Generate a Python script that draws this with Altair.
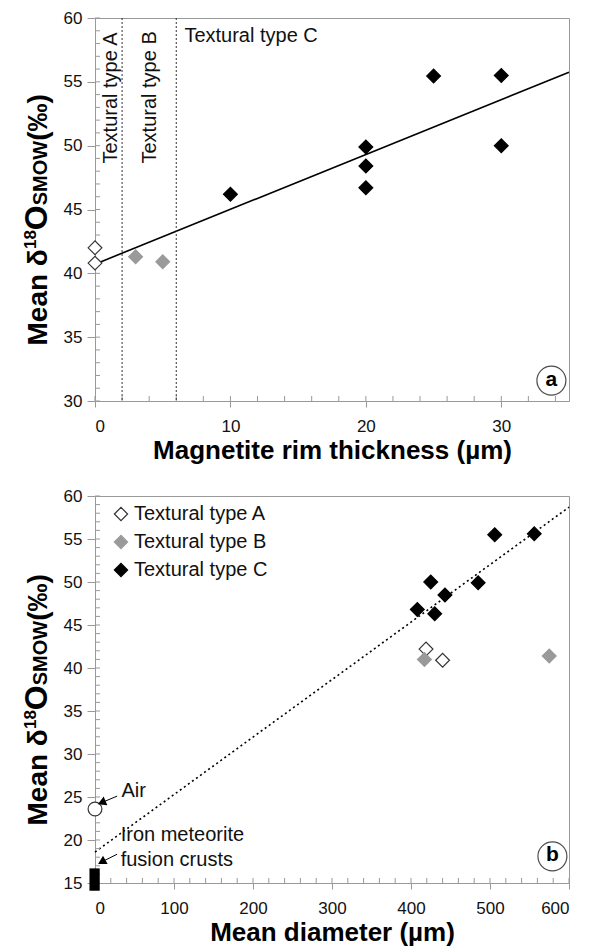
import altair as alt
import pandas as pd

FONT = "Liberation Sans, Arial, Helvetica, sans-serif"

# ---------------- data ----------------
TYPES = ["Textural type A", "Textural type B", "Textural type C"]

# panel a : magnetite rim thickness vs mean d18O
A_TYPE = ["Textural type A"] * 2 + ["Textural type B"] * 2 + ["Textural type C"] * 7
A_RIM = [0, 0, 3, 5, 10, 20, 20, 20, 25, 30, 30]
A_D18O = [42.0, 40.8, 41.3, 40.9, 46.2, 49.9, 48.4, 46.7, 55.45, 55.5, 50.0]
A_FIT_X = [0, 35]
A_FIT_Y = [40.72, 55.75]
A_BOUND_X = [2, 6]
A_VLABEL_TEXT = ["Textural type A", "Textural type B"]
A_VLABEL_X = [1.6, 4.5]
A_VLABEL_Y = [48.6, 48.6]
A_HLABEL_TEXT = ["Textural type C"]
A_HLABEL_X = [6.6]
A_HLABEL_Y = [58.1]
A_TAG = ["a"]
A_TAG_X = [33.7]
A_TAG_Y = [31.6]
A_XTICKS = [0, 10, 20, 30]
A_YTICKS = [30, 35, 40, 45, 50, 55, 60]
A_XMINOR = list(range(0, 36, 2))
A_YMINOR = list(range(30, 61))

# panel b : mean diameter vs mean d18O
B_TYPE = ["Textural type A"] * 2 + ["Textural type B"] * 2 + ["Textural type C"] * 7
B_DIAM = [419, 440, 417, 575, 408, 425, 430, 443, 485, 506, 556]
B_D18O = [42.2, 40.9, 41.0, 41.4, 46.8, 50.0, 46.3, 48.5, 49.9, 55.5, 55.6]
B_FIT_X = [0, 600]
B_FIT_Y = [18.6, 58.7]
AIR_X = [0]
AIR_Y = [23.6]
IRON_X = [-7]
IRON_X2 = [6]
IRON_Y = [14.1]
IRON_Y2 = [16.7]
B_NOTE_TEXT = ["Air", "Iron meteorite", "fusion crusts"]
B_NOTE_X = [33.5, 32.5, 32.5]
B_NOTE_Y = [25.7, 20.6, 17.7]
ARROW_ID = ["air", "air", "iron", "iron"]
ARROW_X = [28, 8.5, 28, 8.5]
ARROW_Y = [25.1, 24.35, 18.35, 17.45]
HEAD_X = [8.5, 8.5]
HEAD_Y = [24.35, 17.45]
HEAD_ANGLE = [247, 241]
B_TAG = ["b"]
B_TAG_X = [579]
B_TAG_Y = [18.1]
B_XTICKS = [0, 100, 200, 300, 400, 500, 600]
B_YTICKS = [15, 20, 25, 30, 35, 40, 45, 50, 55, 60]
B_XMINOR = list(range(0, 601, 20))
B_YMINOR = list(range(15, 61))

Y_TITLE_TEXT = ["Mean δ", "18", "O", "SMOW", " (‰)"]

# ---------------- layout ----------------
W = 474
HA = 383
HB = 387
Y_TITLE_SIZE = [28, 17, 32, 20, 28]
Y_TITLE_EM = [3.445, 1.112, 0.778, 3.222, 1.944]
Y_TITLE_RAISE = [0, 11, 0, 0, 0]
GRAY = "#9a9a9a"
AXC = "#999999"


def y_title_layers(h):
    layers = []
    pos = h / 2 + 136
    for t, s, em, r in zip(Y_TITLE_TEXT, Y_TITLE_SIZE, Y_TITLE_EM, Y_TITLE_RAISE):
        layers.append(
            alt.Chart(pd.DataFrame({"t": [t]}))
            .mark_text(angle=270, align="left", baseline="alphabetic",
                       fontSize=s, fontWeight="bold", font=FONT, color="black")
            .encode(x=alt.value(-48 - r), y=alt.value(pos), text="t:N")
        )
        pos -= em * s
    return layers


def base_layers(xdom, ydom, h, xvals, yvals, xminor, yminor, xtitle):
    xs = alt.Scale(domain=xdom, nice=False, zero=False)
    ys = alt.Scale(domain=ydom, nice=False, zero=False)
    x_main = alt.Axis(values=xvals, tickSize=6, labelPadding=11, format="d",
                      title=xtitle, titleFontSize=26, titleFontWeight="bold",
                      titlePadding=3, titleColor="black")
    y_main = alt.Axis(values=yvals, tickSize=8, labelPadding=5, format="d", title=None)
    xmin = alt.Chart(pd.DataFrame({"v": xminor})).mark_rule(color=AXC, strokeWidth=1).encode(
        x=alt.X("v:Q", scale=xs, axis=None), y=alt.value(h), y2=alt.value(h - 5))
    ymin = alt.Chart(pd.DataFrame({"v": yminor})).mark_rule(color=AXC, strokeWidth=1).encode(
        y=alt.Y("v:Q", scale=ys, axis=None), x=alt.value(0), x2=alt.value(5))
    return xs, ys, x_main, y_main, [xmin, ymin]


def points(df_pts, xs, ys, legend):
    return alt.Chart(df_pts).mark_point(shape="diamond", filled=True, size=190,
                                        strokeWidth=1.2, opacity=1).encode(
        x=alt.X("x:Q", scale=xs, axis=None),
        y=alt.Y("y:Q", scale=ys, axis=None),
        fill=alt.Fill("type:N", scale=alt.Scale(domain=TYPES, range=["white", GRAY, "black"]),
                      legend=legend),
        stroke=alt.Stroke("type:N", scale=alt.Scale(domain=TYPES, range=["#333333", GRAY, "black"]),
                          legend=legend),
    )


def tag(x, y, t, xs, ys):
    df = pd.DataFrame({"x": x, "y": y, "t": t})
    c = alt.Chart(df).mark_point(shape="circle", size=840, color="black", strokeWidth=1.2).encode(
        x=alt.X("x:Q", scale=xs, axis=None), y=alt.Y("y:Q", scale=ys, axis=None))
    s = alt.Chart(df).mark_text(fontSize=21, fontWeight="bold", font=FONT, color="black", dy=-1).encode(
        x=alt.X("x:Q", scale=xs, axis=None), y=alt.Y("y:Q", scale=ys, axis=None), text="t:N")
    return [c, s]


# ---------------- panel a ----------------
df_a = pd.DataFrame({"x": A_RIM, "y": A_D18O, "type": A_TYPE})
xs_a, ys_a, xm_a, ym_a, minor_a = base_layers(
    [0, 35], [30, 60], HA, A_XTICKS, A_YTICKS, A_XMINOR, A_YMINOR, "Magnetite rim thickness (µm)")

fit_a = alt.Chart(pd.DataFrame({"x": A_FIT_X, "y": A_FIT_Y})).mark_line(
    color="black", strokeWidth=1.6).encode(
    x=alt.X("x:Q", scale=xs_a, axis=xm_a), y=alt.Y("y:Q", scale=ys_a, axis=ym_a))
bounds_a = alt.Chart(pd.DataFrame({"x": A_BOUND_X})).mark_rule(
    color="#333333", strokeDash=[2, 2], strokeWidth=1).encode(
    x=alt.X("x:Q", scale=xs_a, axis=None))
vlab_a = alt.Chart(pd.DataFrame({"x": A_VLABEL_X, "y": A_VLABEL_Y, "t": A_VLABEL_TEXT})).mark_text(
    angle=270, align="left", baseline="alphabetic", fontSize=20, font=FONT, color="#111").encode(
    x=alt.X("x:Q", scale=xs_a, axis=None), y=alt.Y("y:Q", scale=ys_a, axis=None), text="t:N")
hlab_a = alt.Chart(pd.DataFrame({"x": A_HLABEL_X, "y": A_HLABEL_Y, "t": A_HLABEL_TEXT})).mark_text(
    align="left", baseline="alphabetic", fontSize=20, font=FONT, color="#111").encode(
    x=alt.X("x:Q", scale=xs_a, axis=None), y=alt.Y("y:Q", scale=ys_a, axis=None), text="t:N")
pts_a = points(df_a, xs_a, ys_a, None)

panel_a = alt.layer(fit_a, *minor_a, bounds_a, pts_a, vlab_a, hlab_a,
                    *tag(A_TAG_X, A_TAG_Y, A_TAG, xs_a, ys_a),
                    *y_title_layers(HA)).resolve_axis(x="independent", y="independent").properties(
    width=W, height=HA)

# ---------------- panel b ----------------
df_b = pd.DataFrame({"x": B_DIAM, "y": B_D18O, "type": B_TYPE})
leg = alt.Legend(orient="none", legendX=16, legendY=8, title=None, symbolType="diamond",
                 symbolSize=175, symbolStrokeWidth=1.2, labelFontSize=20, labelFont=FONT,
                 labelColor="#111", rowPadding=8, labelOffset=3)
xs_b, ys_b, xm_b, ym_b, minor_b = base_layers(
    [0, 600], [15, 60], HB, B_XTICKS, B_YTICKS, B_XMINOR, B_YMINOR, "Mean diameter (µm)")

fit_b = alt.Chart(pd.DataFrame({"x": B_FIT_X, "y": B_FIT_Y})).mark_line(
    color="black", strokeWidth=1.6, strokeDash=[2, 3]).encode(
    x=alt.X("x:Q", scale=xs_b, axis=xm_b), y=alt.Y("y:Q", scale=ys_b, axis=ym_b))
iron = alt.Chart(pd.DataFrame({"x": IRON_X, "x2": IRON_X2, "y": IRON_Y, "y2": IRON_Y2})).mark_rect(
    color="black").encode(
    x=alt.X("x:Q", scale=xs_b, axis=None), x2="x2:Q",
    y=alt.Y("y:Q", scale=ys_b, axis=None), y2="y2:Q")
air = alt.Chart(pd.DataFrame({"x": AIR_X, "y": AIR_Y})).mark_point(
    shape="circle", size=190, filled=True, fill="white", stroke="#333333", strokeWidth=1.2, opacity=1).encode(
    x=alt.X("x:Q", scale=xs_b, axis=None), y=alt.Y("y:Q", scale=ys_b, axis=None))
notes = alt.Chart(pd.DataFrame({"x": B_NOTE_X, "y": B_NOTE_Y, "t": B_NOTE_TEXT})).mark_text(
    align="left", baseline="middle", fontSize=20, font=FONT, color="#111").encode(
    x=alt.X("x:Q", scale=xs_b, axis=None), y=alt.Y("y:Q", scale=ys_b, axis=None), text="t:N")
shafts = alt.Chart(pd.DataFrame({"x": ARROW_X, "y": ARROW_Y, "id": ARROW_ID})).mark_line(
    color="black", strokeWidth=1).encode(
    x=alt.X("x:Q", scale=xs_b, axis=None), y=alt.Y("y:Q", scale=ys_b, axis=None), detail="id:N")
heads = alt.Chart(pd.DataFrame({"x": HEAD_X, "y": HEAD_Y, "a": HEAD_ANGLE})).mark_point(
    shape="triangle-up", filled=True, color="black", size=90, opacity=1).encode(
    x=alt.X("x:Q", scale=xs_b, axis=None), y=alt.Y("y:Q", scale=ys_b, axis=None),
    angle=alt.Angle("a:Q", scale=None))
pts_b = points(df_b, xs_b, ys_b, leg)

panel_b = alt.layer(fit_b, *minor_b, iron, air, pts_b, notes, shafts, heads,
                    *tag(B_TAG_X, B_TAG_Y, B_TAG, xs_b, ys_b),
                    *y_title_layers(HB)).resolve_axis(x="independent", y="independent").properties(
    width=W, height=HB)

chart = alt.vconcat(panel_a, panel_b, spacing=22).resolve_scale(
    x="independent", y="independent", fill="independent", stroke="independent"
).resolve_legend(fill="independent", stroke="independent").properties(
    padding={"left": 12, "top": 0, "right": 0, "bottom": 0}
).configure_view(stroke=AXC, strokeWidth=1).configure_axis(
    labelFont=FONT, titleFont=FONT, labelFontSize=17, labelColor="#111",
    domainColor=AXC, tickColor=AXC, grid=False
)

chart.save("out.html", embed_options={"renderer": "svg", "actions": False})
